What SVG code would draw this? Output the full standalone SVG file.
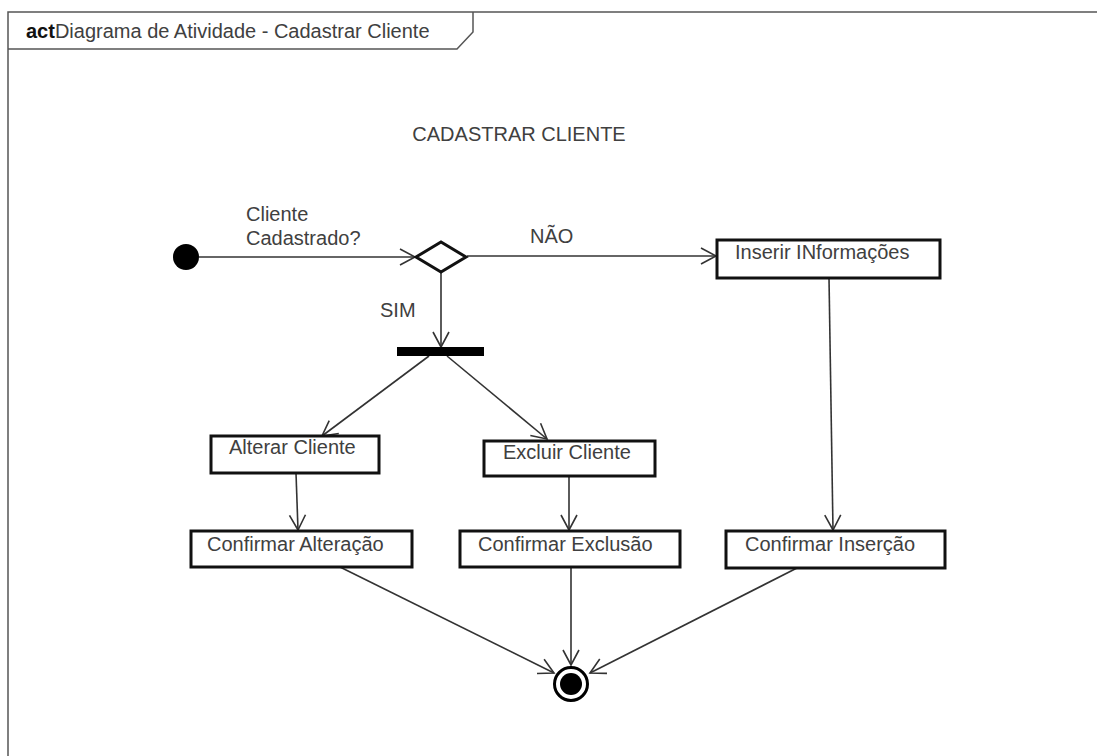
<svg xmlns="http://www.w3.org/2000/svg" width="1097" height="756" viewBox="0 0 1097 756">
  <defs>
    <marker id="open" markerUnits="userSpaceOnUse" markerWidth="20" markerHeight="20" viewBox="-16 -10 20 20" refX="0" refY="0" orient="auto">
      <path d="M-15,-8 L0,0 L-15,8" fill="none" stroke="#333" stroke-width="1.6"/>
    </marker>
  </defs>
  <style>
    text { font-family: "Liberation Sans", Arial, sans-serif; font-size: 20px; fill: #404040; }
    .box { fill: #fff; stroke: #111; stroke-width: 3; }
    .edge { fill: none; stroke: #333; stroke-width: 1.6; marker-end: url(#open); }
    .frame { fill: none; stroke: #555; stroke-width: 1.5; }
  </style>
  <rect width="1097" height="756" fill="#fff"/>

  <!-- activity frame -->
  <g id="frame">
    <path class="frame" d="M1097,12 L8,12 L8,756"/>
    <path class="frame" d="M8,49 L457,49 L473,32 L473,12"/>
    <text x="26" y="38" font-size="21"><tspan font-weight="bold" fill="#111">act</tspan>Diagrama de Atividade - Cadastrar Cliente</text>
  </g>

  <text x="519" y="141" text-anchor="middle">CADASTRAR CLIENTE</text>

  <!-- connectors -->
  <g id="connectors">
    <path class="edge" d="M199,257 L415,257"/>
    <path class="edge" d="M467,256 L716,256"/>
    <path class="edge" d="M441,272 L441,347"/>
    <path class="edge" d="M429,356 L322,436"/>
    <path class="edge" d="M447,356 L547,439"/>
    <path class="edge" d="M296,473 L298,530"/>
    <path class="edge" d="M569,476 L569,530"/>
    <path class="edge" d="M829,278 L833,530"/>
    <path class="edge" d="M340,567 L554,673"/>
    <path class="edge" d="M571,567 L571,665"/>
    <path class="edge" d="M797,568 L590,673"/>
    <text x="246" y="221">Cliente</text>
    <text x="246" y="245">Cadastrado?</text>
    <text x="530" y="243">NÃO</text>
    <text x="380" y="317">SIM</text>
  </g>

  <g id="initial">
    <circle cx="186" cy="257" r="13" fill="#000"/>
  </g>

  <g id="decision">
    <path d="M416,257 L441,242 L466,257 L441,272 Z" fill="#fff" stroke="#111" stroke-width="3"/>
  </g>

  <g id="fork">
    <rect x="397" y="347" width="87" height="9" fill="#000"/>
  </g>

  <g id="inserir">
    <rect class="box" x="717" y="240" width="223" height="38"/>
    <text x="735" y="259">Inserir INformações</text>
  </g>

  <g id="alterar">
    <rect class="box" x="211" y="436" width="168" height="37"/>
    <text x="229" y="454">Alterar Cliente</text>
  </g>

  <g id="excluir">
    <rect class="box" x="484" y="441" width="171" height="35"/>
    <text x="503" y="459">Excluir Cliente</text>
  </g>

  <g id="confirmar-alteracao">
    <rect class="box" x="191" y="531" width="221" height="36"/>
    <text x="207" y="551">Confirmar Alteração</text>
  </g>

  <g id="confirmar-exclusao">
    <rect class="box" x="460" y="531" width="220" height="36"/>
    <text x="478" y="551">Confirmar Exclusão</text>
  </g>

  <g id="confirmar-insercao">
    <rect class="box" x="726" y="531" width="219" height="37"/>
    <text x="745" y="551">Confirmar Inserção</text>
  </g>

  <g id="final">
    <circle cx="571" cy="684" r="16.5" fill="#fff" stroke="#000" stroke-width="3"/>
    <circle cx="571" cy="684" r="11" fill="#000"/>
  </g>
</svg>
